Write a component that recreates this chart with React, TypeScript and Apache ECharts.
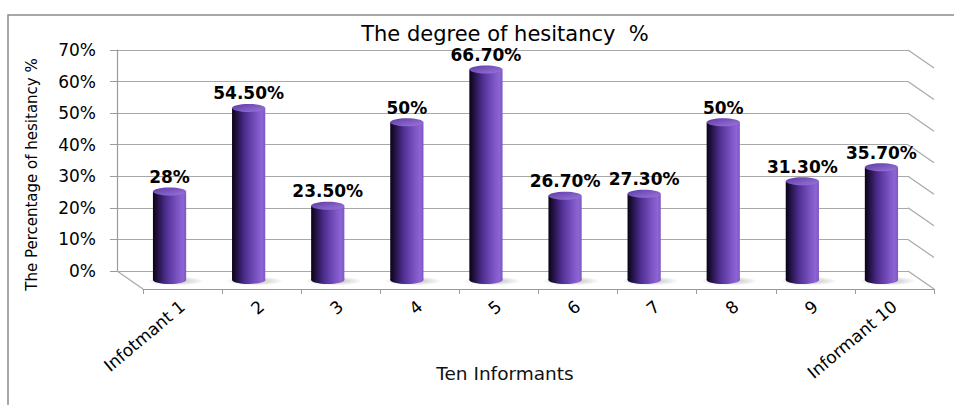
import React, { useEffect, useRef } from "react";
import * as echarts from "echarts";

// Informants along the floor of the chart
const categories = ["Infotmant 1", "2", "3", "4", "5", "6", "7", "8", "9", "Informant 10"];
// Degree of hesitancy per informant, in percent
const hesitancy = [28, 54.5, 23.5, 50, 66.7, 26.7, 27.3, 50, 31.3, 35.7];
// Gridline levels on the back wall
const percentTicks = [0, 10, 20, 30, 40, 50, 60, 70];

const chartTitle = "The degree of hesitancy  %";
const xAxisTitle = "Ten Informants";
const yAxisTitle = "The Percentage of hesitancy %";

const FONT = '"DejaVu Sans", "Liberation Sans", sans-serif';

// Pseudo-3D box: back wall, bar plane (mid depth) and front edge share one size
const PLOT_W = 791;
const PLOT_H = 221;
const BACK = { left: 117, top: 50 };
const DEPTH_X = 26;
const DEPTH_Y = 18;

const fmtPct = (v: number) => (Number.isInteger(v) ? `${v}%` : `${v.toFixed(2)}%`);

export default function App() {
  const ref = useRef<HTMLDivElement>(null);

  useEffect(() => {
    if (!ref.current) return;
    const chart = echarts.init(ref.current, undefined, { renderer: "svg" });

    const bodyFill = () =>
      new echarts.graphic.LinearGradient(0, 0, 1, 0, [
        { offset: 0, color: "#0a0316" },
        { offset: 0.12, color: "#1e0f3c" },
        { offset: 0.4, color: "#4f2f92" },
        { offset: 0.72, color: "#7a52c2" },
        { offset: 0.9, color: "#8d64d3" },
        { offset: 1, color: "#7e56c4" },
      ]);
    const topFill = () =>
      new echarts.graphic.LinearGradient(0, 0, 1, 1, [
        { offset: 0, color: "#5e3aa6" },
        { offset: 1, color: "#9b78dc" },
      ]);

    const grids = [0, 1, 2].map((k) => ({
      left: BACK.left + (k * DEPTH_X) / 2,
      top: BACK.top + (k * DEPTH_Y) / 2,
      width: PLOT_W,
      height: PLOT_H,
    }));

    chart.setOption({
      animation: false,
      textStyle: { fontFamily: FONT },
      title: [
        {
          text: chartTitle,
          left: 500,
          top: 18,
          textAlign: "center",
          textStyle: { fontSize: 21, fontWeight: "normal", color: "#000", fontFamily: FONT },
        },
        {
          text: xAxisTitle,
          left: 500,
          top: 359,
          textAlign: "center",
          textStyle: { fontSize: 18.5, fontWeight: "normal", color: "#111", fontFamily: FONT },
        },
      ],
      graphic: [
        {
          type: "rect",
          shape: { x: 8, y: 15, width: 1000, height: 500 },
          style: { fill: "none", stroke: "#8a8a8a", lineWidth: 1.5 },
          silent: true,
          z: -10,
        },
      ],
      grid: grids,
      xAxis: [
        { gridIndex: 0, type: "value", min: 0, max: categories.length, show: false },
        { gridIndex: 1, type: "category", data: categories, show: false },
        {
          gridIndex: 2,
          type: "category",
          data: categories,
          boundaryGap: true,
          axisLine: { show: true, lineStyle: { color: "#9a9a9a", width: 1.2 } },
          axisTick: { show: true, length: 5, alignWithLabel: false, lineStyle: { color: "#9a9a9a" } },
          axisLabel: {
            interval: 0,
            rotate: 40,
            margin: 15,
            fontSize: 17,
            color: "#000",
            fontFamily: FONT,
          },
        },
      ],
      yAxis: [
        {
          gridIndex: 0,
          type: "value",
          min: 0,
          max: 70,
          interval: 10,
          axisLine: { show: true, lineStyle: { color: "#9a9a9a", width: 1.2 } },
          axisTick: { show: true, length: 7, lineStyle: { color: "#9a9a9a" } },
          axisLabel: { formatter: "{value}%", fontSize: 17, color: "#000", margin: 21, fontFamily: FONT },
          splitLine: { show: true, lineStyle: { color: "#a8a8a8", width: 1.2 } },
          name: yAxisTitle,
          nameLocation: "middle",
          nameRotate: 90,
          nameGap: 78,
          nameTextStyle: { fontSize: 15, color: "#000", fontFamily: FONT, padding: [0, 28, 0, 0] },
        },
        { gridIndex: 1, type: "value", min: 0, max: 70, interval: 10, show: false },
        { gridIndex: 2, type: "value", min: 0, max: 70, interval: 10, show: false },
      ],
      series: [
        {
          // right side wall edges and left floor edge of the 3D box
          type: "custom",
          name: "walls",
          xAxisIndex: 0,
          yAxisIndex: 0,
          silent: true,
          data: percentTicks.map((t) => [categories.length, t]),
          renderItem: (params: any, api: any) => {
            const p = api.coord([api.value(0), api.value(1)]);
            const children: any[] = [
              {
                type: "line",
                shape: { x1: p[0], y1: p[1], x2: p[0] + DEPTH_X, y2: p[1] + DEPTH_Y },
                style: { stroke: "#a8a8a8", lineWidth: 1.2 },
              },
            ];
            if (api.value(1) === 0) {
              const o = api.coord([0, 0]);
              children.push({
                type: "line",
                shape: { x1: o[0], y1: o[1], x2: o[0] + DEPTH_X, y2: o[1] + DEPTH_Y },
                style: { stroke: "#a8a8a8", lineWidth: 1.2 },
              });
            }
            return { type: "group", children };
          },
        },
        {
          // cylinders standing at mid depth
          type: "custom",
          name: "hesitancy",
          xAxisIndex: 1,
          yAxisIndex: 1,
          data: hesitancy.map((v, i) => [i, v]),
          renderItem: (params: any, api: any) => {
            const i = api.value(0);
            const v = api.value(1);
            const top = api.coord([i, v]);
            const base = api.coord([i, 0]);
            const w = api.size([1, 0])[0] * 0.42;
            const rx = w / 2;
            const ry = 4;
            return {
              type: "group",
              children: [
                {
                  type: "ellipse",
                  shape: { cx: base[0] + 6, cy: base[1] + 1, rx: rx + 12, ry: 4.5 },
                  style: {
                    fill: new echarts.graphic.RadialGradient(0.5, 0.5, 0.5, [
                      { offset: 0, color: "rgba(0,0,0,0.28)" },
                      { offset: 1, color: "rgba(0,0,0,0)" },
                    ]),
                  },
                },
                {
                  type: "rect",
                  shape: { x: top[0] - rx, y: top[1], width: w, height: base[1] - top[1] },
                  style: { fill: bodyFill() },
                },
                {
                  type: "ellipse",
                  shape: { cx: base[0], cy: base[1], rx, ry },
                  style: { fill: bodyFill() },
                },
                {
                  type: "ellipse",
                  shape: { cx: top[0], cy: top[1], rx, ry },
                  style: { fill: topFill() },
                },
                {
                  type: "text",
                  style: {
                    text: fmtPct(v),
                    x: top[0],
                    y: top[1] - 6,
                    align: "center",
                    verticalAlign: "bottom",
                    fontSize: 17,
                    fontWeight: "bold",
                    fontFamily: FONT,
                    fill: "#000",
                  },
                },
              ],
            };
          },
        },
      ],
    });

    return () => chart.dispose();
  }, []);

  return (
    <div
      ref={ref}
      style={{ position: "absolute", left: 0, top: 0, width: 954, height: 405, background: "#fff" }}
    />
  );
}
